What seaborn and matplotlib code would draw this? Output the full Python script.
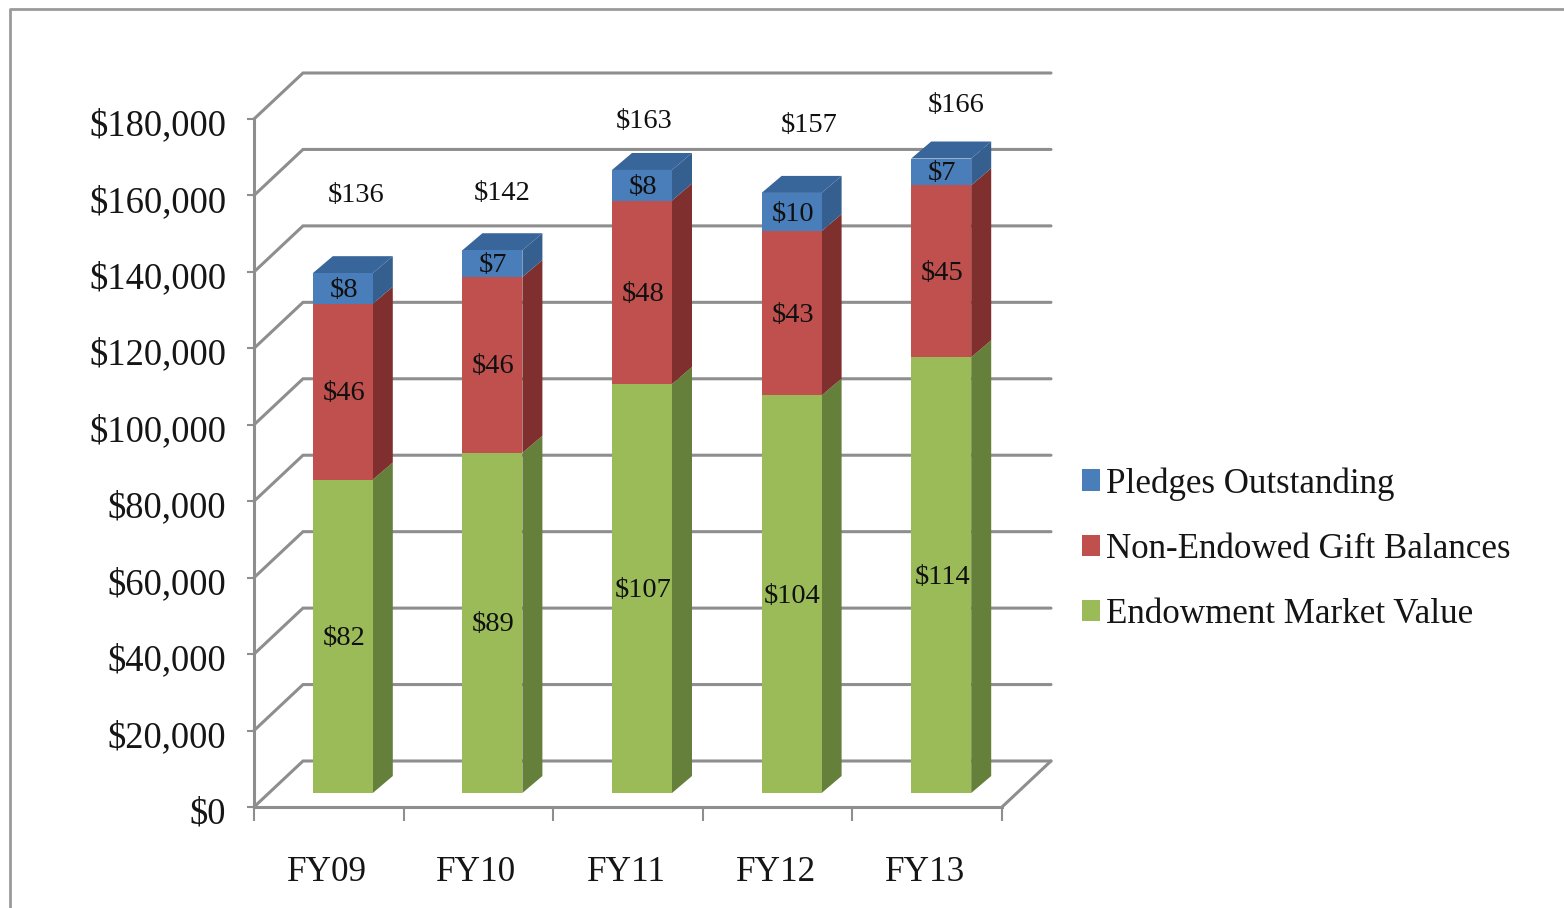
import matplotlib
matplotlib.use('Agg')
import matplotlib.pyplot as plt
from matplotlib.lines import Line2D
from matplotlib.transforms import Affine2D
import seaborn as sns

# values in $ millions, axis labelled in $ thousands
years = ['FY09', 'FY10', 'FY11', 'FY12', 'FY13']
endowment = [82, 89, 107, 104, 114]
non_endowed = [46, 46, 48, 43, 45]
pledges = [8, 7, 8, 10, 7]
totals = [136, 142, 163, 157, 166]
y_ticks = [0, 20, 40, 60, 80, 100, 120, 140, 160, 180]

W, H = 1564, 908
PX_X = 748 / 5      # pixels per category
PX_Y = 688 / 180    # pixels per axis unit
GRID = '#8e8e8e'

sns.set_theme(style='white')
plt.rcParams['font.family'] = ['Liberation Serif', 'DejaVu Serif']

fig = plt.figure(figsize=(W / 100, H / 100), dpi=100, facecolor='white')
ax = fig.add_axes([254 / W, 1 - 807 / H, 748 / W, 688 / H])
ax.patch.set_alpha(0)

# front colour, side colour, top colour
green = ['#9bbb59', '#64803a', '#64803a']
red = ['#c0504d', '#7f2f2d', '#7f2f2d']
blue = ['#4a7ebb', '#355f8e', '#38659a']

bottom_red = endowment
bottom_blue = [a + b for a, b in zip(endowment, non_endowed)]
series = [
    (endowment, [0] * 5, green, 'Endowment Market Value'),
    (non_endowed, bottom_red, red, 'Non-Endowed Gift Balances'),
    (pledges, bottom_blue, blue, 'Pledges Outstanding'),
]

for vals, bottoms, cols, name in series:
    sns.barplot(x=years, y=vals, bottom=bottoms, color=cols[0], saturation=1,
                width=60 / PX_X, errorbar=None, label=name, zorder=4, ax=ax)

ax.set_xlim(-0.5, 4.5)
ax.set_ylim(0, 180)

# bars sit a little way back from the front plane
bar_tf = ax.transData + Affine2D().translate(14, 14)
for p in ax.patches:
    p.set_transform(bar_tf)
    p.set_clip_on(False)
    p.set_linewidth(0)
    p.set_edgecolor('none')

# side and top faces of the bars
half = 30 / PX_X
dx, dy = 20 / PX_X, 17 / PX_Y
for vals, bottoms, cols, name in series:
    for i, (v, b) in enumerate(zip(vals, bottoms)):
        r = i + half
        ax.fill([r, r + dx, r + dx, r], [b, b + dy, b + v + dy, b + v],
                color=cols[1], lw=0, zorder=3, clip_on=False, transform=bar_tf)
for i, top in enumerate(totals):
    l, r = i - half, i + half
    ax.fill([l, r, r + dx, l + dx], [top, top, top + dy, top + dy],
            color=blue[2], lw=0, zorder=3, clip_on=False, transform=bar_tf)

# value labels inside the bars
label_tf = bar_tf + Affine2D().translate(1, -2)
for vals, bottoms, cols, name in series:
    for i, (v, b) in enumerate(zip(vals, bottoms)):
        ax.text(i, b + v / 2, f'${v}', ha='center', va='center', fontsize=20.5,
                color='#101010', zorder=6, clip_on=False, transform=label_tf)

# totals were placed by hand above the bars (pixel positions)
total_pos = [(356, 195), (502, 193), (644, 121), (809, 125), (956, 105)]
for t, (px, py) in zip(totals, total_pos):
    fig.text(px / W, 1 - py / H, f'${t}', ha='center', va='center', fontsize=20.5,
             color='#101010')

# walls and floor
back_x, back_y = 49 / PX_X, 46 / PX_Y
for v in y_ticks:
    ax.plot([-0.5, -0.5 + back_x, 4.5 + back_x], [v, v + back_y, v + back_y],
            color=GRID, lw=2.2, zorder=1, clip_on=False, solid_joinstyle='miter')
ax.plot([4.5, 4.5 + back_x], [0, back_y], color=GRID, lw=2.2, zorder=1, clip_on=False)

for s in ['top', 'right']:
    ax.spines[s].set_visible(False)
for s in ['left', 'bottom']:
    ax.spines[s].set_color(GRID)
    ax.spines[s].set_linewidth(2.2)

ax.set_yticks(y_ticks)
ax.set_yticklabels([f'${v * 1000:,}' for v in y_ticks])
ax.set_xticks(range(5))
ax.set_xticklabels(years)
ax.set_xticks([-0.5, 0.5, 1.5, 2.5, 3.5, 4.5], minor=True)
ax.tick_params(axis='y', length=5, width=1.5, color=GRID, left=True, pad=15,
               labelsize=26.3, labelcolor='#151515')
ax.tick_params(axis='x', which='major', length=0, pad=35, labelsize=25.3,
               labelcolor='#151515')
ax.tick_params(axis='x', which='minor', length=10, width=1.5, color=GRID, bottom=True)

# tick labels sit slightly low in the original
down = Affine2D().translate(0, -3)
for lab in ax.get_yticklabels():
    lab.set_transform(lab.get_transform() + down)
left = Affine2D().translate(-2, 0)
for lab in ax.get_xticklabels():
    lab.set_transform(lab.get_transform() + left)

handles, labels = ax.get_legend_handles_labels()
ax.legend(handles[::-1], labels[::-1], loc='center left', frameon=False,
          bbox_to_anchor=(1082 / W, 1 - 549 / H), bbox_transform=fig.transFigure,
          fontsize=25.2, handlelength=0.52, handleheight=0.57, handletextpad=0.18,
          labelspacing=0.92, borderpad=0, borderaxespad=0, labelcolor='#151515')

# outer chart border, cut off by the picture at the bottom and right
fig.add_artist(Line2D([10 / W, 10 / W, 1],
                      [0, 1 - 9 / H, 1 - 9 / H],
                      color='#9a9a9a', lw=2, transform=fig.transFigure))

fig.savefig('out.png', dpi=100, facecolor='white')
